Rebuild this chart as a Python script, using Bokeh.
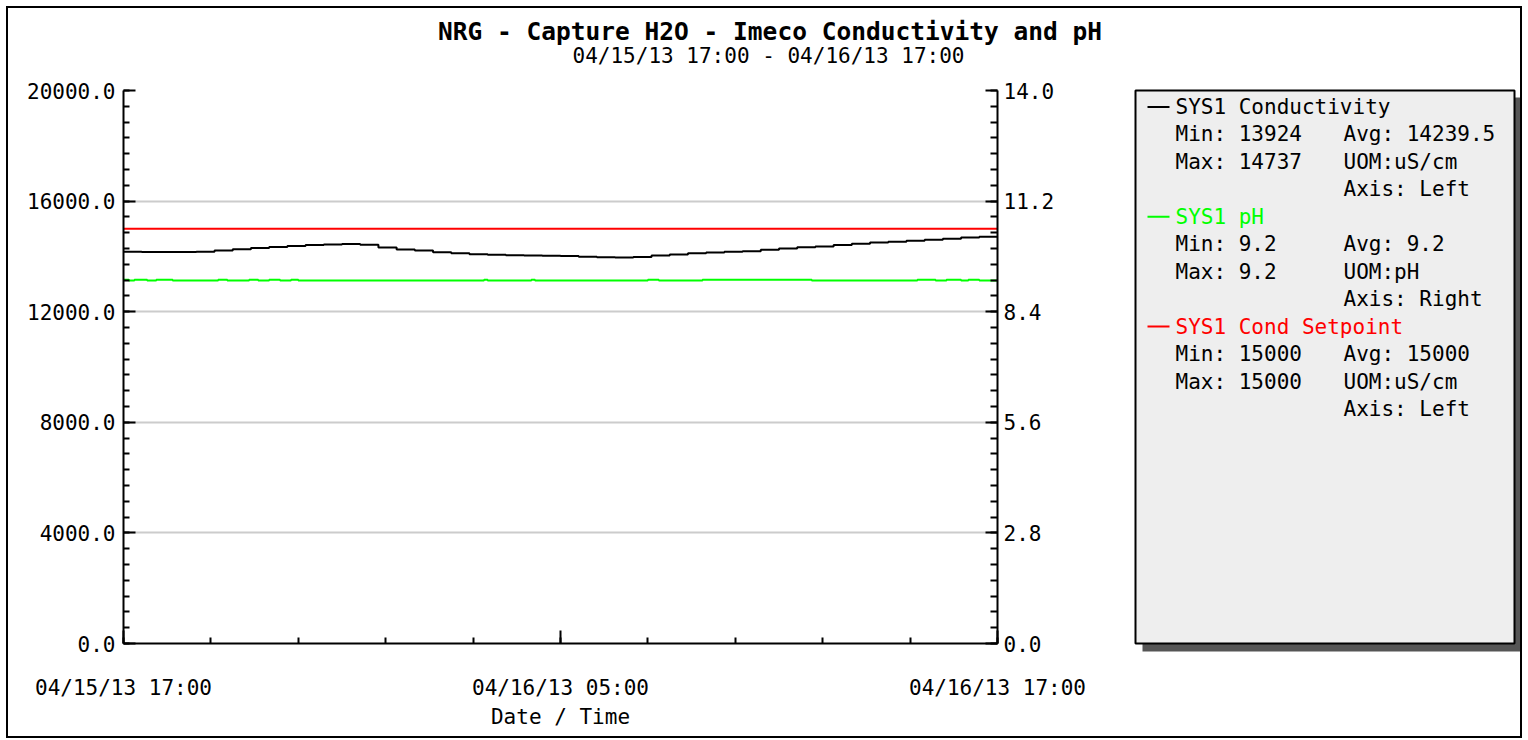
import pandas as pd
from bokeh.plotting import figure
from bokeh.layouts import row, column
from bokeh.models import (Range1d, LinearAxis, FixedTicker, NumeralTickFormatter,
                          DatetimeTickFormatter)
from bokeh.core.properties import value
from bokeh.embed import file_html
from bokeh.resources import INLINE

# ---------------- data ----------------
title_text = "NRG - Capture H2O - Imeco Conductivity and pH"
subtitle_text = "04/15/13 17:00 - 04/16/13 17:00"
start_time = "2013-04-15 17:00"
x_label = "Date / Time"
x_tick_hours = [0, 12, 24]

cond_hours = [0.0, 0.5, 1.0, 1.5, 2.0, 2.5, 3.0, 3.5, 4.0, 4.5, 5.0, 5.5, 6.0, 6.5,
              7.0, 7.5, 8.0, 8.5, 9.0, 9.5, 10.0, 10.5, 11.0, 11.5, 12.0, 12.5, 13.0,
              13.5, 14.0, 14.5, 15.0, 15.5, 16.0, 16.5, 17.0, 17.5, 18.0, 18.5, 19.0,
              19.5, 20.0, 20.5, 21.0, 21.5, 22.0, 22.5, 23.0, 23.5, 24.0]
cond_values = [14170, 14160, 14160, 14160, 14170, 14210, 14260, 14300, 14340, 14380,
               14410, 14430, 14445, 14420, 14320, 14250, 14210, 14150, 14110, 14080,
               14060, 14040, 14030, 14020, 14010, 13985, 13970, 13960, 13975, 14030,
               14070, 14110, 14140, 14170, 14190, 14240, 14290, 14330, 14360, 14410,
               14460, 14500, 14530, 14565, 14600, 14640, 14680, 14710, 14737]

ph_hours = [0.0, 0.15, 0.3, 0.65, 0.9, 1.35, 2.6, 2.85, 3.45, 3.7, 4.0, 4.3, 4.6, 4.8,
            9.9, 10.0, 11.2, 11.3, 14.4, 14.7, 15.9, 18.9, 21.8, 22.3, 22.6, 23.0,
            23.2, 23.5, 24.0]
ph_values = [9.21, 9.19, 9.21, 9.19, 9.21, 9.19, 9.21, 9.19, 9.21, 9.19, 9.21, 9.19,
             9.21, 9.19, 9.21, 9.19, 9.21, 9.19, 9.21, 9.19, 9.21, 9.19, 9.21, 9.19,
             9.21, 9.19, 9.21, 9.19, 9.19]

setpoint_hours = [0, 24]
setpoint_values = [15000, 15000]

left_ticks = [0, 4000, 8000, 12000, 16000, 20000]
right_ticks = [0, 2.8, 5.6, 8.4, 11.2, 14.0]

series_names = ["SYS1 Conductivity", "SYS1 pH", "SYS1 Cond Setpoint"]
series_colors = ["#000000", "#00FF00", "#FF0000"]
series_min = ["13924", "9.2", "15000"]
series_max = ["14737", "9.2", "15000"]
series_avg = ["14239.5", "9.2", "15000"]
series_uom = ["uS/cm", "pH", "uS/cm"]
series_axis = ["Left", "Right", "Left"]

# ---------------- layout constants (page pixels) ----------------
FONT = "DejaVu Sans Mono"
ORG = 8                      # content origin inside the outer border
TOP_H = 70                   # height of the title strip
SPLIT = 1126                 # page x where the legend panel starts
RIGHT, BOTTOM = 1520, 736    # content right / bottom edge (page)
Y_MID = ORG + TOP_H
W_MAIN, W_LEG, H = SPLIT - ORG, RIGHT - SPLIT, BOTTOM - Y_MID
FL, FR, FT, FB = 123, 997, 90, 643   # plot frame (page)

def free_frame(fig):
    if "frame_align" in fig.properties():
        fig.frame_align = False

# ---------------- title strip ----------------
tfig = figure(width=RIGHT - ORG, height=TOP_H, output_backend="svg",
              toolbar_location=None, title=None, min_border=0,
              x_axis_type=None, y_axis_type=None,
              x_range=Range1d(ORG, RIGHT), y_range=Range1d(Y_MID, ORG))
free_frame(tfig)
tfig.outline_line_color = None
tfig.grid.visible = False
tfig.background_fill_color = "white"
tfig.border_fill_color = "white"
tfig.text(x=[769.5], y=[31], text=[title_text], text_font=value(FONT),
          text_font_size="24.5px", text_font_style="bold", text_color="black",
          text_align="center", text_baseline="middle")
tfig.text(x=[768], y=[55], text=[subtitle_text], text_font=value(FONT),
          text_font_size="21px", text_color="black",
          text_align="center", text_baseline="middle")

# ---------------- main figure ----------------
t0 = pd.Timestamp(start_time)
def hours_to_time(hs):
    return [t0 + pd.Timedelta(hours=h) for h in hs]
def ms(h):
    return (t0 + pd.Timedelta(hours=h)).value / 1e6

p = figure(width=W_MAIN, height=H, x_axis_type="datetime", output_backend="svg",
           toolbar_location=None, title=None,
           x_range=Range1d(ms(0), ms(24)), y_range=Range1d(0, 20000),
           min_border_left=FL - ORG, min_border_right=SPLIT - FR,
           min_border_top=FT - Y_MID, min_border_bottom=BOTTOM - FB)
p.outline_line_color = None
p.background_fill_color = "white"
p.border_fill_color = "white"
p.extra_y_ranges = {"ph": Range1d(0, 14)}

p.xgrid.grid_line_color = None
p.ygrid.grid_line_color = "#CCCCCC"
p.ygrid.grid_line_width = 2
p.ygrid.ticker = FixedTicker(ticks=left_ticks)

def style_axis(ax, minor_in):
    ax.axis_line_width = 2
    ax.axis_line_color = "black"
    ax.major_tick_in = 12
    ax.major_tick_out = 0
    ax.minor_tick_in = minor_in
    ax.minor_tick_out = 0
    ax.major_tick_line_width = 2
    ax.minor_tick_line_width = 2
    ax.major_label_text_font = FONT
    ax.major_label_text_font_size = "21px"
    ax.major_label_text_color = "black"
    ax.axis_label_text_font = FONT
    ax.axis_label_text_font_size = "21px"
    ax.axis_label_text_font_style = "normal"
    ax.axis_label_text_color = "black"

yl = p.yaxis[0]
yl.ticker = FixedTicker(ticks=left_ticks, minor_ticks=[i * 4000 / 7 for i in range(36)])
yl.formatter = NumeralTickFormatter(format="0.0")
style_axis(yl, 6)
yl.major_label_standoff = 8

yr = LinearAxis(y_range_name="ph")
yr.ticker = FixedTicker(ticks=right_ticks, minor_ticks=[i * 0.4 for i in range(36)])
yr.formatter = NumeralTickFormatter(format="0.0")
style_axis(yr, 7)
yr.major_label_standoff = 6
p.add_layout(yr, "right")

xa = p.xaxis[0]
xa.ticker = FixedTicker(ticks=[ms(h) for h in x_tick_hours],
                        minor_ticks=[ms(i * 2.4) for i in range(11)])
fmt = "%m/%d/%y %H:%M"
xa.formatter = DatetimeTickFormatter(microseconds=fmt, milliseconds=fmt, seconds=fmt,
                                     minsec=fmt, minutes=fmt, hourmin=fmt, hours=fmt,
                                     days=fmt, months=fmt, years=fmt)
style_axis(xa, 6)
xa.major_tick_in = 13
xa.major_label_standoff = 32
xa.axis_label = x_label
xa.axis_label_standoff = 2

# series
p.step(hours_to_time(setpoint_hours), setpoint_values, mode="after",
       line_color=series_colors[2], line_width=2)
p.step(hours_to_time(cond_hours), cond_values, mode="after",
       line_color=series_colors[0], line_width=2)
p.step(hours_to_time(ph_hours), ph_values, mode="after", y_range_name="ph",
       line_color=series_colors[1], line_width=2)

# ---------------- legend panel (page pixel coordinates) ----------------
q = figure(width=W_LEG, height=H, output_backend="svg", toolbar_location=None,
           title=None, min_border=0, x_axis_type=None, y_axis_type=None,
           x_range=Range1d(SPLIT, RIGHT))
if "frame_align" in q.properties():
    q.frame_align = False
    q.y_range = Range1d(BOTTOM, Y_MID)
else:
    q.y_range = Range1d(FB, FT)
q.outline_line_color = None
q.grid.visible = False
q.background_fill_color = "white"
q.border_fill_color = "white"

q.quad(left=[1142], right=[1524], top=[97], bottom=[651], fill_color="#555555",
       line_color=None)
q.quad(left=[1135], right=[1514], top=[90], bottom=[643], fill_color="#EEEEEE",
       line_color="black", line_width=2)

row_h = 27.45
y0 = 106.5
tx, ty, tt, tc = [], [], [], []
sx0, sx1, sy = [], [], []
for i, name in enumerate(series_names):
    yb = y0 + i * 4 * row_h
    sx0.append(1147); sx1.append(1169); sy.append(yb)
    rows = [(1175, yb, name, series_colors[i]),
            (1175, yb + row_h, "Min: " + series_min[i], "black"),
            (1343, yb + row_h, "Avg: " + series_avg[i], "black"),
            (1175, yb + 2 * row_h, "Max: " + series_max[i], "black"),
            (1343, yb + 2 * row_h, "UOM:" + series_uom[i], "black"),
            (1343, yb + 3 * row_h, "Axis: " + series_axis[i], "black")]
    for x, y, t, c in rows:
        tx.append(x); ty.append(y); tt.append(t); tc.append(c)

q.segment(x0=sx0, x1=sx1, y0=sy, y1=sy, line_color=series_colors, line_width=2)
q.text(x=tx, y=ty, text=tt, text_color=tc, text_font=value(FONT),
       text_font_size="21px", text_baseline="middle", text_align="left")

layout = column(tfig, row(p, q), margin=(6, 6, 2, 6), spacing=0,
                styles={"border": "2px solid black"})

open("out.html", "w").write(file_html(layout, INLINE))
